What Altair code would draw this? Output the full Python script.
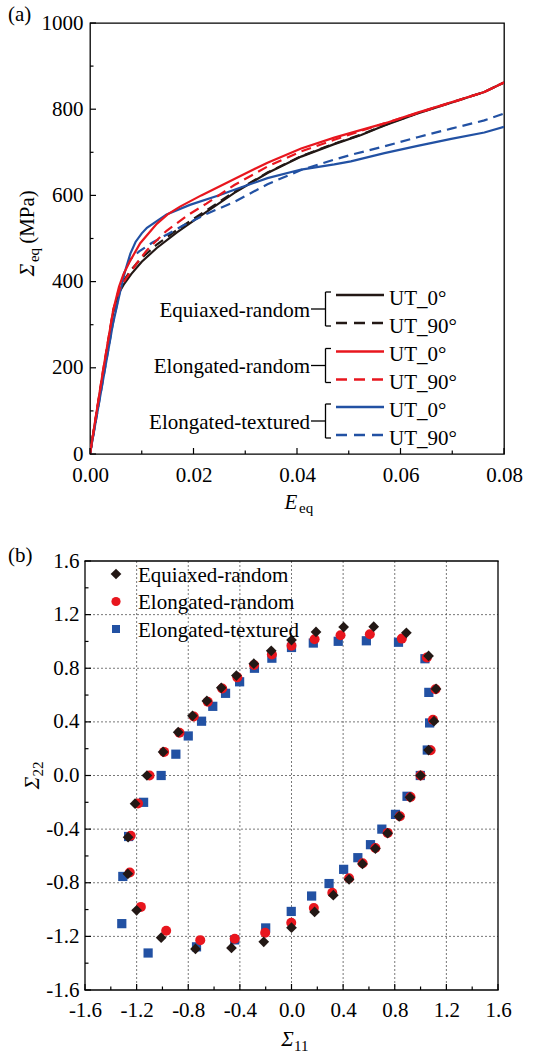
import altair as alt
import pandas as pd

# ---------------- panel (a): equivalent stress-strain curves ----------------
# Equiaxed-random
E_eqr_0 = [0, 0.0025, 0.0045, 0.0055, 0.0065, 0.0080, 0.0100, 0.0129, 0.0168, 0.0213, 0.0279, 0.0343, 0.0408, 0.0472, 0.0524, 0.0569, 0.0633, 0.0698, 0.0762, 0.0800]
S_eqr_0 = [0, 185, 330, 372, 393, 418, 446, 478, 514, 552, 606, 652, 690, 719, 740, 762, 790, 815, 840, 862]
E_eqr_90 = [0, 0.0025, 0.0045, 0.0055, 0.0065, 0.0080, 0.0100, 0.0129, 0.0168, 0.0213, 0.0279, 0.0343, 0.0408, 0.0472, 0.0524, 0.0569, 0.0633, 0.0698, 0.0762, 0.0800]
S_eqr_90 = [0, 185, 330, 378, 402, 428, 455, 486, 520, 556, 608, 653, 691, 720, 741, 763, 791, 816, 840, 862]
# Elongated-random
E_elr_0 = [0, 0.0025, 0.0045, 0.0056, 0.0064, 0.0077, 0.0097, 0.0129, 0.0150, 0.0174, 0.0215, 0.0279, 0.0343, 0.0408, 0.0472, 0.0504, 0.0569, 0.0633, 0.0698, 0.0762, 0.0800]
S_elr_0 = [0, 192, 335, 388, 415, 447, 489, 534, 556, 574, 600, 638, 676, 709, 734, 745, 767, 792, 816, 840, 862]
E_elr_90 = [0, 0.0025, 0.0045, 0.0058, 0.0070, 0.0090, 0.0110, 0.0148, 0.0190, 0.0225, 0.0279, 0.0343, 0.0408, 0.0472, 0.0524, 0.0569, 0.0633, 0.0698, 0.0762, 0.0800]
S_elr_90 = [0, 192, 335, 385, 408, 442, 473, 518, 555, 581, 624, 667, 702, 729, 750, 767, 791, 815, 840, 862]
# Elongated-textured
E_elt_0 = [0, 0.0025, 0.0044, 0.0058, 0.0068, 0.0078, 0.0088, 0.0100, 0.0110, 0.0148, 0.0193, 0.0251, 0.0279, 0.0343, 0.0408, 0.0472, 0.0504, 0.0569, 0.0633, 0.0698, 0.0762, 0.0800]
S_elt_0 = [0, 170, 300, 375, 425, 465, 492, 512, 525, 556, 578, 601, 613, 640, 660, 672, 679, 698, 715, 731, 746, 759]
E_elt_90 = [0, 0.0025, 0.0044, 0.0058, 0.0066, 0.0078, 0.0095, 0.0120, 0.0150, 0.0180, 0.0225, 0.0279, 0.0343, 0.0408, 0.0472, 0.0504, 0.0569, 0.0633, 0.0698, 0.0762, 0.0800]
S_elt_90 = [0, 172, 302, 380, 420, 452, 470, 490, 510, 530, 557, 585, 626, 659, 683, 694, 714, 735, 755, 774, 790]

x_major_a = [0.0, 0.02, 0.04, 0.06, 0.08]
x_minor_a = [0.01, 0.03, 0.05, 0.07]
y_major_a = [0, 200, 400, 600, 800, 1000]
y_minor_a = [100, 300, 500, 700, 900]

groups = ["Equiaxed-random", "Elongated-random", "Elongated-textured"]
orient_labels = ["UT_0°", "UT_90°"]

# ---------------- panel (b): yield loci ----------------
s11_eqr = [-1.12, -0.995, -0.878, -0.767, -0.656, -0.544, -0.427, -0.292, -0.157, 0.0, 0.19, 0.404, 0.637, 0.89, 1.062, 1.12, 1.104, 1.062, 1.0,
           0.918, 0.834, 0.745, 0.65, 0.55, 0.446, 0.324, 0.179, 0.0, -0.215, -0.465, -0.744, -1.01, -1.2, -1.268, -1.266, -1.212]
s22_eqr = [0.0, 0.176, 0.323, 0.445, 0.556, 0.654, 0.745, 0.834, 0.93, 1.01, 1.071, 1.107, 1.11, 1.064, 0.892, 0.646, 0.405, 0.19, 0.0,
           -0.163, -0.305, -0.43, -0.545, -0.66, -0.775, -0.893, -1.018, -1.135, -1.241, -1.286, -1.294, -1.21, -1.006, -0.733, -0.46, -0.21]
s11_elr = [-1.10, -0.987, -0.868, -0.757, -0.649, -0.537, -0.42, -0.29, -0.152, 0.0, 0.179, 0.38, 0.607, 0.855, 1.049, 1.116, 1.096, 1.078, 1.0,
           0.922, 0.84, 0.745, 0.65, 0.551, 0.446, 0.316, 0.173, -0.002, -0.204, -0.44, -0.707, -0.971, -1.167, -1.253, -1.246, -1.189]
s22_elr = [0.0, 0.176, 0.319, 0.44, 0.55, 0.649, 0.732, 0.824, 0.902, 0.968, 1.016, 1.046, 1.053, 1.021, 0.88, 0.644, 0.416, 0.189, 0.0,
           -0.16, -0.304, -0.428, -0.541, -0.655, -0.767, -0.874, -0.988, -1.098, -1.173, -1.218, -1.228, -1.158, -0.98, -0.724, -0.45, -0.209]
s11_elt = [-1.01, -0.896, -0.8, -0.697, -0.61, -0.511, -0.402, -0.287, -0.152, 0.0, 0.169, 0.362, 0.58, 0.829, 1.034, 1.064, 1.07, 1.052, 0.998,
           0.895, 0.806, 0.7, 0.612, 0.514, 0.404, 0.291, 0.156, -0.002, -0.2, -0.44, -0.736, -1.111, -1.315, -1.307, -1.262, -1.146]
s22_elt = [0.0, 0.159, 0.295, 0.405, 0.516, 0.613, 0.699, 0.8, 0.875, 0.955, 0.988, 1.001, 1.005, 0.994, 0.871, 0.62, 0.392, 0.19, 0.0,
           -0.155, -0.29, -0.4, -0.516, -0.613, -0.7, -0.806, -0.899, -1.014, -1.137, -1.226, -1.278, -1.324, -1.105, -0.753, -0.455, -0.2]

ticks_b = [-1.6, -1.2, -0.8, -0.4, 0.0, 0.4, 0.8, 1.2, 1.6]
minor_b = [-1.4, -1.0, -0.6, -0.2, 0.2, 0.6, 1.0, 1.4]
grid_b = [-1.2, -0.8, -0.4, 0.0, 0.4, 0.8, 1.2]
edges_b = [-1.6, 1.6]

# ---------------- styling ----------------
FONT = "Liberation Serif"
BLACK, RED, BLUE = "#231815", "#e8161e", "#2251a3"
W1, H1 = 414, 431
H2 = 429
XOFF = -5          # panel (b) frame starts 5 px left of the shared column origin
W2G = 408          # panel (b) group width (frame spans XOFF .. W2G)
DASH = [10, 6]


def make_axis(values, fmt=None, expr=None, pad=8, offset=0):
    kw = dict(values=values, ticks=False, domain=False, grid=False, labelFont=FONT,
              labelFontSize=21, labelColor="black", labelPadding=pad, title=None,
              labelFlush=False, labelOverlap=False, offset=offset)
    if fmt:
        kw["format"] = fmt
    if expr:
        kw["labelExpr"] = expr
    return alt.Axis(**kw)


def one():
    return pd.DataFrame({"k": [0]})


def txt(s, x, y, size=21, italic=False, angle=0, align="left"):
    return alt.Chart(pd.DataFrame({"t": [s]})).mark_text(
        font=FONT, fontSize=size, fontStyle="italic" if italic else "normal",
        angle=angle, align=align, baseline="alphabetic", color="black"
    ).encode(text="t:N", x=alt.value(x), y=alt.value(y))


def seg(x1, y1, x2, y2, color="black", width=1.3, dash=None):
    kw = dict(color=color, strokeWidth=width)
    if dash:
        kw["strokeDash"] = dash
    return alt.Chart(one()).mark_rule(**kw).encode(
        x=alt.value(x1), x2=alt.value(x2), y=alt.value(y1), y2=alt.value(y2))


def xticks(vals, length, scale, axis, h):
    return alt.Chart(pd.DataFrame({"v": vals})).mark_rule(color="black", strokeWidth=1.2).encode(
        x=alt.X("v:Q", scale=scale, axis=axis), y=alt.value(h), y2=alt.value(h - length))


def yticks(vals, length, scale, axis, x0=0):
    return alt.Chart(pd.DataFrame({"v": vals})).mark_rule(color="black", strokeWidth=1.2).encode(
        y=alt.Y("v:Q", scale=scale, axis=axis), x=alt.value(x0), x2=alt.value(x0 + length))


# ---------------- build panel (a) ----------------
xa = alt.Scale(domain=[0, 0.08], nice=False, zero=False)
ya = alt.Scale(domain=[0, 1000], nice=False, zero=False)
ax_xa = make_axis(x_major_a, fmt=".2f", pad=10)
ax_ya = make_axis(y_major_a, fmt="d", pad=7)

series_a = [
    (E_eqr_0, S_eqr_0, BLACK, None),
    (E_eqr_90, S_eqr_90, BLACK, DASH),
    (E_elt_90, S_elt_90, BLUE, DASH),
    (E_elt_0, S_elt_0, BLUE, None),
    (E_elr_90, S_elr_90, RED, DASH),
    (E_elr_0, S_elr_0, RED, None),
]
layers_a = []
for xs, ys, col, dash in series_a:
    kw = dict(color=col, strokeWidth=2.2, clip=True)
    if dash:
        kw["strokeDash"] = dash
    layers_a.append(
        alt.Chart(pd.DataFrame({"E": xs, "S": ys})).mark_line(**kw).encode(
            x=alt.X("E:Q", scale=xa, axis=ax_xa),
            y=alt.Y("S:Q", scale=ya, axis=ax_ya),
            order=alt.Order("E:Q"),
        )
    )

layers_a += [
    xticks(x_major_a, 6, xa, ax_xa, H1), xticks(x_minor_a, 3.5, xa, ax_xa, H1),
    yticks(y_major_a, 6, ya, ax_ya), yticks(y_minor_a, 3.5, ya, ax_ya),
]

# custom bracket legend
centers = [286, 342.5, 398]
colors = [BLACK, RED, BLUE]
for g, c, col in zip(groups, centers, colors):
    layers_a += [
        txt(g, 220, c + 7.5, align="right"),
        seg(221, c, 235.5, c),
        seg(235.5, c - 17, 235.5, c + 17),
        seg(235.5, c - 17, 241, c - 17),
        seg(235.5, c + 17, 241, c + 17),
        seg(246, c - 14, 294, c - 14, color=col, width=2.5),
        seg(246, c + 14, 294, c + 14, color=col, width=2.5, dash=[11, 7]),
        txt(orient_labels[0], 299, c - 14 + 9.5),
        txt(orient_labels[1], 299, c + 14 + 9.5),
    ]

# titles (a)
layers_a += [
    txt("(a)", -82, -2),
    txt("E", 201, 486, size=21, italic=True, align="center"),
    txt("eq", 209, 490, size=15),
    txt("Σ", -56, 247, size=21, italic=True, angle=270, align="center"),
    txt("eq", -51, 232, size=15, angle=270, align="center"),
    txt("(MPa)", -56, 194, size=21, angle=270, align="center"),
]

top = alt.layer(*layers_a).properties(width=W1, height=H1)

# ---------------- build panel (b) ----------------
xb = alt.Scale(domain=[-1.6, 1.6], nice=False, zero=False, range=[XOFF, W2G])
yb = alt.Scale(domain=[-1.6, 1.6], nice=False, zero=False)
expr_b = "datum.value < 0 ? '-' + format(-datum.value, '.1f') : format(datum.value, '.1f')"
ax_xb = make_axis(ticks_b, expr=expr_b, pad=9)
ax_yb = make_axis(ticks_b, expr=expr_b, pad=6, offset=-XOFF)

shapes = ["diamond", "circle", "square"]
sizes = [115, 85, 64]

rows = []
for g, xs, ys in [(groups[2], s11_elt, s22_elt), (groups[1], s11_elr, s22_elr), (groups[0], s11_eqr, s22_eqr)]:
    for a, b in zip(xs, ys):
        rows.append({"s11": a, "s22": b, "grp": g})
pts = pd.DataFrame(rows)

grid_x = alt.Chart(pd.DataFrame({"v": grid_b})).mark_rule(color="#555555", strokeWidth=0.8, strokeDash=[2, 2]).encode(
    x=alt.X("v:Q", scale=xb, axis=ax_xb), y=alt.value(0), y2=alt.value(H2))
grid_y = alt.Chart(pd.DataFrame({"v": grid_b})).mark_rule(color="#555555", strokeWidth=0.8, strokeDash=[2, 2]).encode(
    y=alt.Y("v:Q", scale=yb, axis=ax_yb), x=alt.value(XOFF), x2=alt.value(W2G))
frame_x = alt.Chart(pd.DataFrame({"v": edges_b})).mark_rule(color="black", strokeWidth=1.3).encode(
    x=alt.X("v:Q", scale=xb, axis=ax_xb), y=alt.value(0), y2=alt.value(H2))
frame_y = alt.Chart(pd.DataFrame({"v": edges_b})).mark_rule(color="black", strokeWidth=1.3).encode(
    y=alt.Y("v:Q", scale=yb, axis=ax_yb), x=alt.value(XOFF - 0.65), x2=alt.value(W2G + 0.65))

points = alt.Chart(pts).mark_point(filled=True, opacity=1, strokeWidth=0).encode(
    x=alt.X("s11:Q", scale=xb, axis=ax_xb),
    y=alt.Y("s22:Q", scale=yb, axis=ax_yb),
    color=alt.Color("grp:N", scale=alt.Scale(domain=groups, range=colors), legend=None),
    shape=alt.Shape("grp:N", scale=alt.Scale(domain=groups, range=shapes), legend=None),
    size=alt.Size("grp:N", scale=alt.Scale(domain=groups, range=sizes), legend=None),
)

layers_b = [
    grid_x, grid_y, frame_x, frame_y, points,
    xticks(ticks_b, 6, xb, ax_xb, H2), xticks(minor_b, 3.5, xb, ax_xb, H2),
    yticks(ticks_b, 6, yb, ax_yb, XOFF), yticks(minor_b, 3.5, yb, ax_yb, XOFF),
]

# custom legend (b)
for i, (g, col, shp, sz) in enumerate(zip(groups, colors, shapes, sizes)):
    cy = 13 + 27.5 * i
    layers_b += [
        alt.Chart(one()).mark_point(shape=shp, filled=True, size=sz, color=col, opacity=1, strokeWidth=0).encode(
            x=alt.value(31 + XOFF), y=alt.value(cy)),
        txt(g, 53 + XOFF, cy + 7.5),
    ]

layers_b += [
    txt("(b)", -82, 1),
    txt("Σ", 202.5 + XOFF, 485, size=21, italic=True, align="center"),
    txt("11", 209 + XOFF, 490, size=15),
    txt("Σ", -46 + XOFF, 222, size=21, italic=True, angle=270, align="center"),
    txt("22", -42 + XOFF, 208, size=15, angle=270, align="center"),
]

bottom = alt.layer(*layers_b).properties(width=W2G, height=H2, view=alt.ViewBackground(stroke=None))

chart = alt.vconcat(top, bottom, spacing=28).properties(
    padding={"left": 7, "top": 3, "right": 0, "bottom": 0}
).configure_view(stroke="black", strokeWidth=1.3)

chart.save("out.html", embed_options={"renderer": "svg", "actions": False})
